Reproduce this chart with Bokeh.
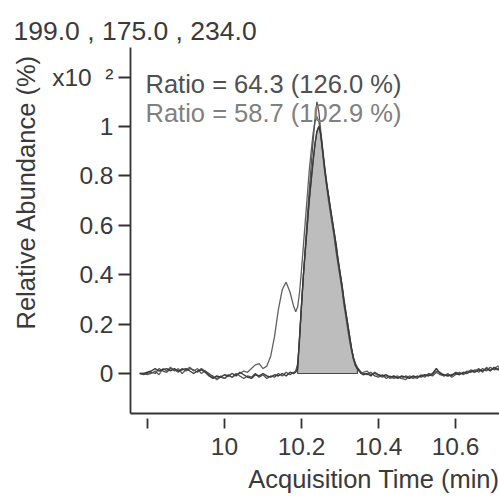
from bokeh.plotting import figure
from bokeh.models import Range1d, FixedTicker, CustomJSTickFormatter, Label, Title
from bokeh.embed import file_html
from bokeh.resources import INLINE
import numpy as np

# ---- data ----
time = [9.78, 9.79, 9.80, 9.81, 9.82, 9.83, 9.84, 9.85, 9.86, 9.87, 9.88, 9.89, 9.90, 9.91,
        9.92, 9.93, 9.94, 9.95, 9.96, 9.97, 9.98, 9.99, 10.00, 10.01, 10.02, 10.03, 10.04,
        10.05, 10.06, 10.07, 10.08, 10.09, 10.10, 10.11, 10.12, 10.13, 10.14, 10.15, 10.16,
        10.17, 10.18,
        10.185, 10.19, 10.195, 10.20, 10.205, 10.21, 10.215, 10.22, 10.225, 10.23, 10.235,
        10.24, 10.245, 10.25, 10.255, 10.26, 10.265, 10.27, 10.275, 10.28, 10.285, 10.29,
        10.295, 10.30, 10.305, 10.31, 10.315, 10.32, 10.325, 10.33, 10.335, 10.34, 10.345,
        10.35, 10.355, 10.36,
        10.37, 10.38, 10.39, 10.40, 10.41, 10.42, 10.43, 10.44, 10.45, 10.46, 10.47, 10.48,
        10.49, 10.50, 10.51, 10.52, 10.53, 10.54, 10.55, 10.56, 10.57, 10.58, 10.59, 10.60,
        10.61, 10.62, 10.63, 10.64, 10.65, 10.66, 10.67, 10.68, 10.69, 10.70, 10.71, 10.72]

quant = [0.0, 0.0, 0.005, 0.01, 0.02, 0.01, 0.015, 0.02, 0.01, 0.02, 0.01, 0.015, 0.02, 0.01,
         0.0, 0.01, 0.015, 0.005, -0.01, -0.02, -0.01, -0.015, -0.005, -0.01, 0.0, -0.01, 0.005,
         -0.005, -0.015, -0.02, -0.005, -0.01, 0.0, -0.01, -0.015, -0.005, -0.01, 0.0, -0.01,
         0.005, 0.0,
         0.005, 0.02, 0.15, 0.28, 0.40, 0.50, 0.60, 0.70, 0.78, 0.86, 0.93,
         0.98, 1.0, 0.97, 0.90, 0.83, 0.77, 0.72, 0.67, 0.62, 0.57, 0.52,
         0.46, 0.41, 0.36, 0.30, 0.25, 0.20, 0.15, 0.10, 0.06, 0.035, 0.02,
         0.01, 0.0, -0.005,
         0.0, -0.01, 0.005, -0.005, -0.01, -0.005, -0.015, -0.01, -0.02, -0.01, -0.015, -0.02,
         -0.01, -0.015, -0.01, -0.005, -0.01, 0.0, 0.02, 0.0, -0.005, -0.01, -0.005, 0.0,
         -0.005, 0.005, 0.0, 0.01, 0.005, 0.015, 0.01, 0.02, 0.01, 0.025, 0.015, 0.02]

qual1 = [0.0, -0.005, 0.0, 0.005, 0.0, 0.02, 0.01, 0.005, 0.02, 0.015, 0.005, 0.02, 0.01, 0.02,
         0.015, 0.005, 0.02, 0.01, 0.0, -0.015, -0.02, -0.01, -0.02, -0.005, -0.015, 0.0, -0.01,
         -0.02, -0.01, -0.015, 0.0, -0.015, -0.005, -0.02, -0.01, -0.015, 0.0, -0.01, 0.005,
         -0.005, 0.005,
         0.01, 0.04, 0.14, 0.27, 0.40, 0.52, 0.63, 0.74, 0.84, 0.94, 1.03,
         1.10, 1.06, 0.98, 0.91, 0.84, 0.78, 0.72, 0.66, 0.61, 0.56, 0.50,
         0.45, 0.40, 0.35, 0.29, 0.24, 0.19, 0.14, 0.10, 0.065, 0.04, 0.025,
         0.015, 0.005, 0.0,
         -0.005, 0.005, -0.01, -0.015, -0.005, -0.02, -0.01, -0.02, -0.015, -0.02, -0.01, -0.015,
         -0.02, -0.01, -0.015, -0.01, -0.005, -0.01, 0.005, -0.005, -0.01, -0.005, -0.01, 0.005,
         0.0, 0.0, 0.01, 0.005, 0.015, 0.005, 0.02, 0.01, 0.025, 0.015, 0.02, 0.03]

qual2 = [0.0, 0.0, -0.005, 0.0, 0.01, -0.005, 0.02, 0.01, 0.025, 0.01, 0.02, 0.0, 0.015, 0.025,
         0.01, 0.02, 0.0, 0.01, -0.005, -0.01, -0.025, -0.015, -0.02, -0.01, -0.015, -0.005, 0.0,
         0.01, 0.005, 0.02, 0.035, 0.04, 0.02, 0.03, 0.07, 0.15, 0.26, 0.34, 0.37,
         0.33, 0.27,
         0.25, 0.27, 0.33, 0.42, 0.52, 0.62, 0.72, 0.82, 0.90, 0.97, 1.02,
         1.04, 1.02, 0.96, 0.89, 0.82, 0.76, 0.70, 0.65, 0.60, 0.55, 0.49,
         0.44, 0.39, 0.34, 0.28, 0.23, 0.18, 0.13, 0.09, 0.055, 0.03, 0.02,
         0.01, 0.0, 0.005,
         0.01, -0.005, 0.0, -0.01, -0.015, -0.01, -0.02, -0.015, -0.01, -0.02, -0.025, -0.01,
         -0.015, -0.02, -0.005, -0.015, 0.0, -0.005, 0.01, 0.005, -0.01, 0.0, -0.015, -0.005,
         0.005, -0.005, 0.005, 0.015, 0.01, 0.02, 0.005, 0.025, 0.015, 0.02, 0.03, 0.025]

fill_start = 10.19
fill_end = 10.345

x_ticks = [9.8, 10.0, 10.2, 10.4, 10.6]
y_ticks = [0, 0.2, 0.4, 0.6, 0.8, 1.0, 1.2]

title_text = "199.0 , 175.0 , 234.0"
ratio1_text = "Ratio = 64.3 (126.0 %)"
ratio2_text = "Ratio = 58.7 (102.9 %)"
scale_label = "x10\u00a0\u00a0\u00b2"

FONT = "Liberation Sans"
TXT = "#3a3a3a"

p = figure(width=499, height=498, output_backend="svg", toolbar_location=None,
           x_range=Range1d(9.756, 10.714), y_range=Range1d(-0.162, 1.32),
           min_border_left=130, min_border_right=0, min_border_top=47, min_border_bottom=85)
p.outline_line_color = None
p.xgrid.visible = False
p.ygrid.visible = False
p.title.visible = False

# integrated area
t = np.array(time)
q = np.array(quant)
m = (t >= fill_start) & (t <= fill_end)
px = [fill_start] + list(t[m]) + [fill_end]
py = [0.0] + list(q[m]) + [0.0]
p.patch(px, py, fill_color="#bdbdbd", line_color="#4a4a4a", line_width=1.2)

p.line(time, qual2, line_color="#606060", line_width=1.3)
p.line(time, qual1, line_color="#505050", line_width=1.3)
p.line(time, quant, line_color="#3a3a3a", line_width=1.4)

# axes
for ax in (p.xaxis[0], p.yaxis[0]):
    ax.axis_line_color = "#333333"
    ax.axis_line_width = 1.8
    ax.major_tick_line_color = "#333333"
    ax.major_tick_line_width = 1.8
    ax.minor_tick_line_color = None
    ax.major_label_text_font = FONT
    ax.major_label_text_font_size = "24.5px"
    ax.major_label_text_color = TXT

p.xaxis.ticker = FixedTicker(ticks=x_ticks)
p.xaxis.formatter = CustomJSTickFormatter(code="""
    if (tick < 9.9) return "";
    return String(Math.round(tick*10)/10);
""")
p.xaxis.major_tick_in = -5
p.xaxis.major_tick_out = 15
p.xaxis.major_label_standoff = 9

p.yaxis.ticker = FixedTicker(ticks=y_ticks)
p.yaxis.formatter = CustomJSTickFormatter(code="""
    if (Math.abs(tick - 1.2) < 1e-6) return "%s";
    return String(Math.round(tick*10)/10);
""" % scale_label)
p.yaxis.major_tick_in = 0
p.yaxis.major_tick_out = 12
p.yaxis.major_label_standoff = 5

# titles / axis labels
p.add_layout(Title(text=title_text, align="left", offset=-117, standoff=4, text_font=FONT,
                   text_font_size="26.5px", text_font_style="normal", text_color=TXT), "above")
p.add_layout(Title(text="Acquisition Time (min)", align="right", standoff=10, text_font=FONT,
                   text_font_size="25.5px", text_font_style="normal", text_color=TXT), "below")
p.add_layout(Title(text="Relative Abundance (%)", align="right", offset=7, standoff=19,
                   text_font=FONT, text_font_size="25.5px", text_font_style="normal",
                   text_color=TXT), "left")

p.add_layout(Label(x=9.795, y=1.174, text=ratio1_text, text_font=FONT,
                   text_font_size="25.5px", text_color="#505050", text_baseline="alphabetic"))
p.add_layout(Label(x=9.795, y=1.053, text=ratio2_text, text_font=FONT,
                   text_font_size="25.5px", text_color="#808080", text_baseline="alphabetic"))

open("out.html", "w").write(file_html(p, INLINE))
